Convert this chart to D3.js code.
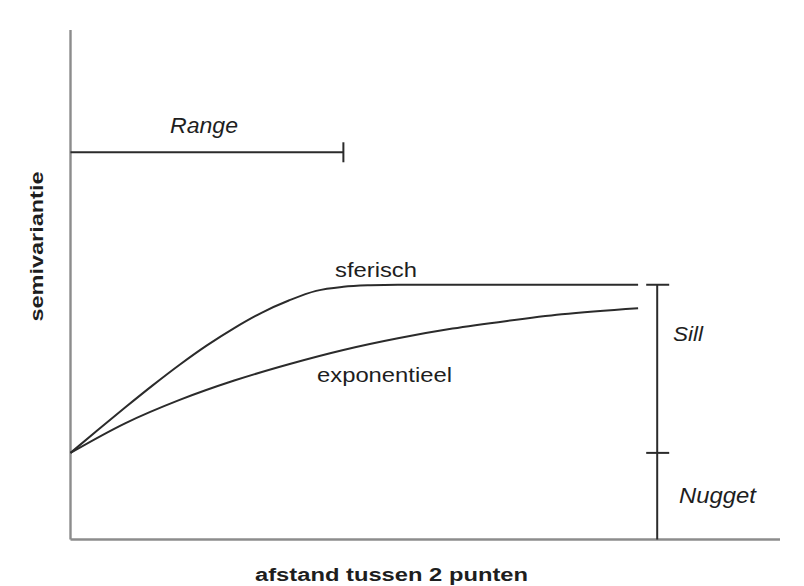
<!DOCTYPE html>
<html>
<head>
<meta charset="utf-8">
<script src="https://cdn.jsdelivr.net/npm/d3@7"></script>
<style>
  html, body { margin: 0; padding: 0; background: #fff; }
  svg { display: block; }
  text { font-family: "Liberation Sans", Arial, Helvetica, sans-serif; fill: #1e1e1e; }
</style>
</head>
<body>
<svg id="chart" width="804" height="586"></svg>
<script>
// ---- data (distance units, semivariance units) ----
const sphericalDistance = [0, 5, 10, 15, 20, 25, 30, 35, 40, 45, 50, 55, 60, 104];
const sphericalValues   = [17, 21.5, 25.9, 30.2, 34.3, 38.1, 41.5, 44.5, 46.9, 48.8, 49.6, 49.9, 50, 50];
const exponentialDistance = [0, 10, 20, 30, 40, 50, 60, 70, 80, 90, 104];
const exponentialValues   = [17, 22.8, 27.4, 31.2, 34.4, 37.2, 39.5, 41.4, 42.9, 44.2, 45.4];
const nugget = 17;
const sill = 50;
const rangeDistance = 50;
const rangeLevel = 76;
const sillDistance = 107.5;
const xMax = 130, yMax = 100;
const labels = {
  x: "afstand tussen 2 punten",
  y: "semivariantie",
  range: "Range",
  spherical: "sferisch",
  exponential: "exponentieel",
  sill: "Sill",
  nugget: "Nugget"
};

// ---- scales ----
const svg = d3.select("#chart");
const x = d3.scaleLinear().domain([0, xMax]).range([70.5, 780]);
const y = d3.scaleLinear().domain([0, yMax]).range([539.5, 30]);

const axisColor = "#8c8c8c";
const inkColor = "#2b2b2b";

// axes (plain lines, no ticks)
svg.append("line")
  .attr("x1", x(0)).attr("x2", x(0))
  .attr("y1", y(0)).attr("y2", y(yMax))
  .attr("stroke", axisColor).attr("stroke-width", 2.4);
svg.append("line")
  .attr("x1", x(0)).attr("x2", x(xMax))
  .attr("y1", y(0)).attr("y2", y(0))
  .attr("stroke", axisColor).attr("stroke-width", 2.4);

// curves
const line = d3.line().curve(d3.curveMonotoneX)
  .x(d => x(d[0])).y(d => y(d[1]));

svg.append("path")
  .datum(d3.zip(sphericalDistance, sphericalValues))
  .attr("d", line)
  .attr("fill", "none").attr("stroke", inkColor).attr("stroke-width", 2);
svg.append("path")
  .datum(d3.zip(exponentialDistance, exponentialValues))
  .attr("d", line)
  .attr("fill", "none").attr("stroke", inkColor).attr("stroke-width", 2);

// range bar
svg.append("line")
  .attr("x1", x(0)).attr("x2", x(rangeDistance))
  .attr("y1", y(rangeLevel)).attr("y2", y(rangeLevel))
  .attr("stroke", inkColor).attr("stroke-width", 2);
svg.append("line")
  .attr("x1", x(rangeDistance)).attr("x2", x(rangeDistance))
  .attr("y1", y(rangeLevel) - 10).attr("y2", y(rangeLevel) + 10)
  .attr("stroke", inkColor).attr("stroke-width", 2);

// sill / nugget bar
svg.append("line")
  .attr("x1", x(sillDistance)).attr("x2", x(sillDistance))
  .attr("y1", y(sill)).attr("y2", y(0))
  .attr("stroke", inkColor).attr("stroke-width", 2);
[sill, nugget].forEach(v => {
  svg.append("line")
    .attr("x1", x(sillDistance) - 11).attr("x2", x(sillDistance) + 12)
    .attr("y1", y(v)).attr("y2", y(v))
    .attr("stroke", inkColor).attr("stroke-width", 2);
});

// text
function label(txt, px, py, w, size, opts = {}) {
  const t = svg.append("text")
    .attr("x", px).attr("y", py)
    .attr("font-size", size)
    .attr("textLength", w)
    .attr("lengthAdjust", "spacingAndGlyphs")
    .text(txt);
  if (opts.italic) t.attr("font-style", "italic");
  if (opts.bold) t.attr("font-weight", "bold");
  if (opts.rotate) t.attr("transform", `rotate(-90, ${px}, ${py})`);
  return t;
}

label(labels.range, 170, 133, 68, 22, { italic: true });
label(labels.spherical, 335, 277, 82, 21);
label(labels.exponential, 317, 382, 135, 21);
label(labels.sill, 673, 341, 30, 21, { italic: true });
label(labels.nugget, 679, 503, 77, 22, { italic: true });
label(labels.x, 255, 581, 273, 18, { bold: true });
label(labels.y, 42.5, 321.5, 150, 18, { bold: true, rotate: true });
</script>
</body>
</html>
